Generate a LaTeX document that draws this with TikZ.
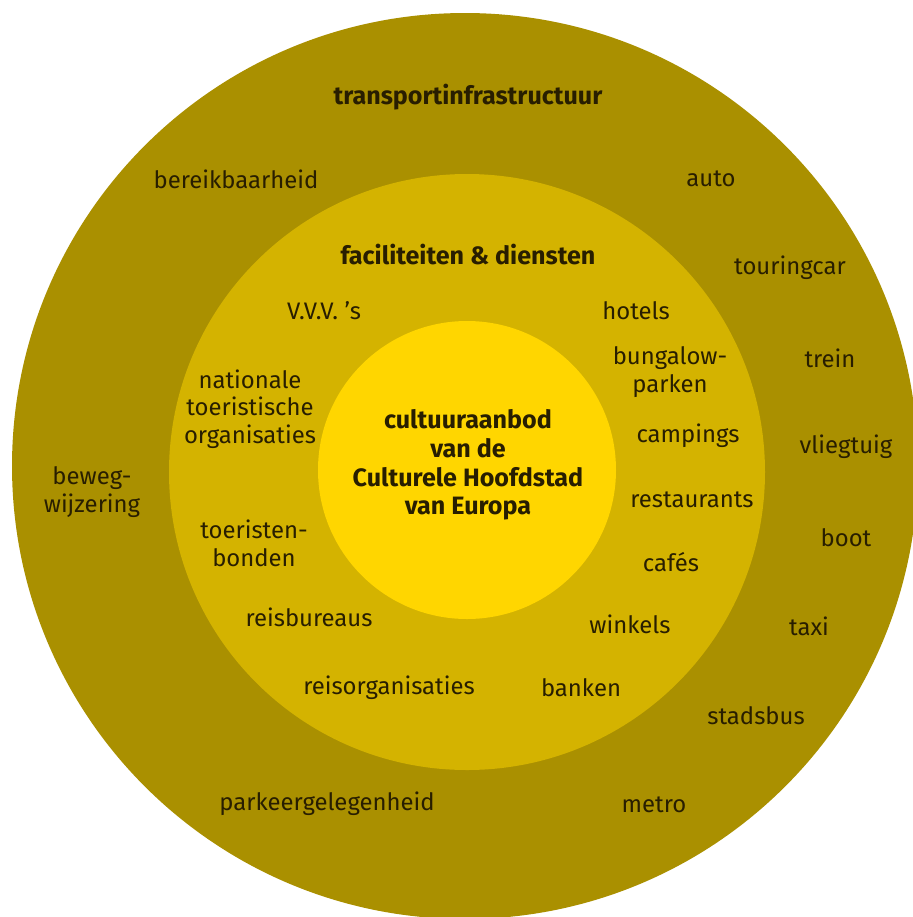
\documentclass[tikz,border=0pt]{standalone}
\usepackage{fontspec}
\setmainfont{Fira Sans}
\usepackage{tikz}
\definecolor{ringbuiten}{RGB}{170,144,0}
\definecolor{ringmidden}{RGB}{212,179,0}
\definecolor{kern}{RGB}{255,214,0}
\definecolor{tekst}{RGB}{40,30,0}

\begin{document}
\begin{tikzpicture}[x=0.02cm, y=-0.02cm]
	\tikzstyle{woord}=[align=center, text=tekst, inner sep=1pt, font=\fontsize{13.6}{15.8}\selectfont]
	\tikzstyle{kop}=[woord, font=\fontsize{14.3}{16.4}\selectfont\bfseries]

	\useasboundingbox (0,0) rectangle (913,917);

	% RINGEN
	\fill[ringbuiten] (465,466) circle (453);
	\fill[ringmidden] (467,472) circle (298);
	\fill[kern] (467,470) circle (149);

	% BUITENSTE RING
	\node[kop] (transport) at (468,97) {transportinfrastructuur};
	\node[woord] (bereik) at (236,179) {bereikbaarheid};
	\node[woord] (auto) at (711,179) {auto};
	\node[woord] (touringcar) at (790,268) {touringcar};
	\node[woord] (trein) at (830,358) {trein};
	\node[woord] (vliegtuig) at (846,447) {vliegtuig};
	\node[woord] (beweg) at (92,492) {beweg-\\wijzering};
	\node[woord] (boot) at (846,538) {boot};
	\node[woord] (taxi) at (809,626) {taxi};
	\node[woord] (stadsbus) at (756,716) {stadsbus};
	\node[woord] (parkeer) at (327,804) {parkeergelegenheid};
	\node[woord] (metro) at (654,805) {metro};

	% MIDDELSTE RING
	\node[kop] (faciliteiten) at (468,255) {faciliteiten \& diensten};
	\node[woord] (vvv) at (324,311) {V.V.V. 's};
	\node[woord] (hotels) at (636,311) {hotels};
	\node[woord] (bungalow) at (670,372) {bungalow-\\parken};
	\node[woord] (nationale) at (250,409) {nationale\\toeristische\\organisaties};
	\node[woord] (campings) at (688,436) {campings};
	\node[woord] (restaurants) at (692,500) {restaurants};
	\node[woord] (bonden) at (254,543) {toeristen-\\bonden};
	\node[woord] (cafes) at (671,562) {cafés};
	\node[woord] (reisbureaus) at (309,617) {reisbureaus};
	\node[woord] (winkels) at (630,624) {winkels};
	\node[woord] (reisorg) at (389,688) {reisorganisaties};
	\node[woord] (banken) at (581,688) {banken};

	% KERN
	\node[kop] (cultuur) at (468,465) {cultuuraanbod\\van de\\Culturele Hoofdstad\\van Europa};
\end{tikzpicture}
\end{document}
